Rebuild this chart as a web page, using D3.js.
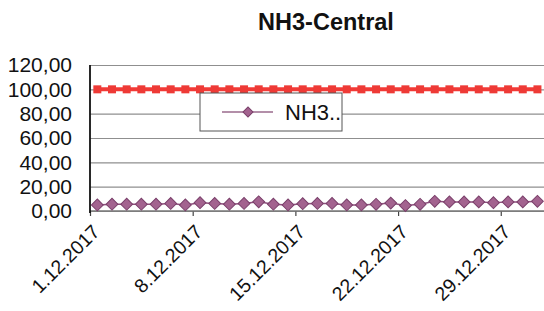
<!DOCTYPE html>
<html><head><meta charset="utf-8">
<script src="https://cdn.jsdelivr.net/npm/d3@7"></script>
<style>
body{margin:0;background:#fff}
svg{display:block}
text{font-family:"Liberation Sans",Arial,sans-serif;fill:#111}
</style>
</head><body>
<svg id="c" width="544" height="311"></svg>
<script>
const dates = ["1.12.2017","2.12.2017","3.12.2017","4.12.2017","5.12.2017","6.12.2017","7.12.2017","8.12.2017","9.12.2017","10.12.2017","11.12.2017","12.12.2017","13.12.2017","14.12.2017","15.12.2017","16.12.2017","17.12.2017","18.12.2017","19.12.2017","20.12.2017","21.12.2017","22.12.2017","23.12.2017","24.12.2017","25.12.2017","26.12.2017","27.12.2017","28.12.2017","29.12.2017","30.12.2017","31.12.2017"];
const nh3 = [5.0,5.6,5.6,5.6,5.6,6.2,5.0,6.8,6.2,5.6,6.2,7.6,5.6,5.0,6.0,6.2,6.2,5.0,5.0,5.5,6.5,4.5,5.5,8.0,7.5,7.5,7.5,6.8,7.5,7.5,8.0];
const limit = [100,100,100,100,100,100,100,100,100,100,100,100,100,100,100,100,100,100,100,100,100,100,100,100,100,100,100,100,100,100,100];
const xTickLabels = ["1.12.2017","8.12.2017","15.12.2017","22.12.2017","29.12.2017"];
const yTicks = [0,20,40,60,80,100,120];
const title = "NH3-Central";
const legendLabel = "NH3..";

(function(){
const W = 544, H = 311;
const pLeft = 90, pTop = 65, pBottom = 211, dayW = 14.67;
const svg = d3.select("#c");

const x = d3.scaleBand().domain(dates).range([pLeft, pLeft + dates.length * dayW]).padding(0);
const xc = d => x(d) + x.bandwidth() / 2;
const xEdge = d3.scaleOrdinal().domain(dates).range(dates.map(d => x(d)));
const y = d3.scaleLinear().domain([0, 120]).range([pBottom, pTop]);
const fmt = d3.formatLocale({decimal: ",", thousands: ".", grouping: [3], currency: ["", ""]}).format(".2f");

// title
svg.append("text").attr("x", 326).attr("y", 30).attr("text-anchor", "middle")
  .style("font-weight", "bold").style("font-size", "23.5px").text(title);

// gridlines
const grid = svg.append("g").attr("transform", `translate(${pLeft},0)`)
  .call(d3.axisLeft(y).tickValues(yTicks).tickSize(-(W - pLeft)).tickFormat(""));
grid.select(".domain").remove();
grid.selectAll("line").attr("stroke", "#8f8f8f").attr("stroke-width", 1.2);

// y labels
const ya = svg.append("g").attr("transform", `translate(${pLeft},0)`)
  .call(d3.axisLeft(y).tickValues(yTicks).tickFormat(fmt).tickSize(0).tickPadding(18));
ya.select(".domain").remove();
ya.selectAll("text").style("font-size", "21px").attr("fill", "#111");

// x axis ticks
const xa = svg.append("g").attr("transform", `translate(0,${pBottom})`)
  .call(d3.axisBottom(xEdge).tickValues(xTickLabels).tickSize(5).tickFormat(""));
xa.select(".domain").remove();
xa.selectAll("line").attr("stroke", "#444").attr("stroke-width", 1.2);
svg.append("line").attr("x1", pLeft).attr("x2", W).attr("y1", pBottom).attr("y2", pBottom)
  .attr("stroke", "#777").attr("stroke-width", 1.5);
svg.append("line").attr("x1", pLeft).attr("x2", pLeft).attr("y1", pTop).attr("y2", pBottom + 2)
  .attr("stroke", "#111").attr("stroke-width", 1.8);

// x labels
svg.append("g").selectAll("text").data(xTickLabels).join("text")
  .attr("transform", d => `translate(${xEdge(d) + 11},233) rotate(-45)`)
  .attr("text-anchor", "end").style("font-size", "19.5px").text(d => d);

// limit series
const line = d3.line().x((d, i) => xc(dates[i])).y(d => y(d));
svg.append("path").datum(limit).attr("d", line).attr("fill", "none")
  .attr("stroke", "#f23a36").attr("stroke-width", 4);
svg.append("g").selectAll("rect").data(limit).join("rect")
  .attr("x", (d, i) => xc(dates[i]) - 4).attr("y", d => y(d) - 4)
  .attr("width", 8).attr("height", 8).attr("fill", "#ee3a36");

// NH3 series
svg.append("path").datum(nh3).attr("d", line).attr("fill", "none")
  .attr("stroke", "#8d4f7c").attr("stroke-width", 1.5);
const diamond = d3.symbol().type(d3.symbolSquare).size(70);
svg.append("g").selectAll("path").data(nh3).join("path")
  .attr("transform", (d, i) => `translate(${xc(dates[i])},${y(d)}) rotate(45)`)
  .attr("d", diamond).attr("fill", "#a3638f").attr("stroke", "#7a3f6a").attr("stroke-width", 1);

// legend
const lg = svg.append("g");
lg.append("rect").attr("x", 200).attr("y", 93).attr("width", 142).attr("height", 38)
  .attr("fill", "#fff").attr("stroke", "#555").attr("stroke-width", 1);
lg.append("line").attr("x1", 222).attr("x2", 273).attr("y1", 112).attr("y2", 112)
  .attr("stroke", "#9a6a8c").attr("stroke-width", 1.5);
lg.append("path").attr("transform", "translate(248,112) rotate(45)")
  .attr("d", d3.symbol().type(d3.symbolSquare).size(50))
  .attr("fill", "#a3638f").attr("stroke", "#7a3f6a");
lg.append("text").attr("x", 285).attr("y", 120).style("font-size", "22px").text(legendLabel);
})();
</script>
</body></html>
